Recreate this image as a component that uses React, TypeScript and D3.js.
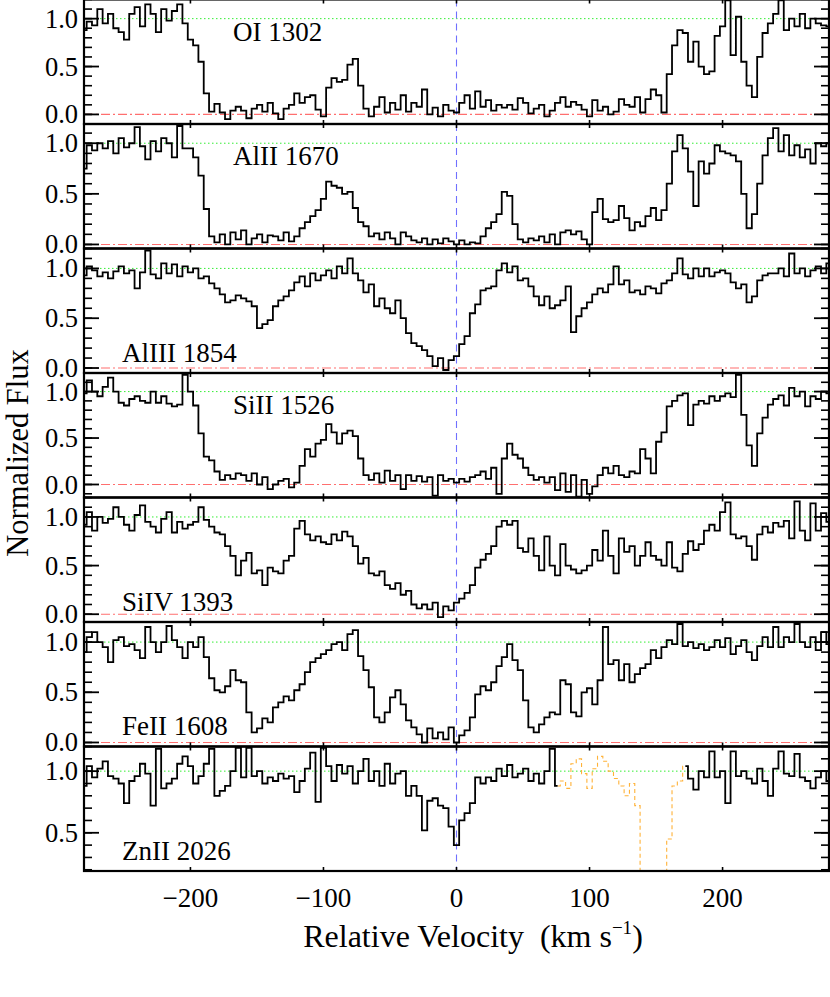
import * as d3 from 'd3'

const W = 830
const H = 997
const LEFT = 84
const RIGHT = 829
const TOP = -0.5
const PANEL_H = 124.5

// velocity pixels, km/s (4 km/s bins)
const VELOCITY = d3.range(-280, 281, 4)

const OI_1302 = [
  0.88, 0.97, 0.93, 1.1, 0.95, 1.05, 0.9, 0.86, 0.78, 1.05,
  1.12, 0.92, 1.15, 1.05, 0.86, 1.1, 0.98, 1.08, 1.15, 0.95,
  0.78, 0.72, 0.55, 0.22, 0.03, 0.11, 0.02, -0.05, 0.04, 0.08,
  0.04, -0.04, 0.06, 0.1, 0.03, 0.12, 0.01, -0.05, 0.06, 0.1,
  0.22, 0.12, 0.18, 0.2, 0.05, -0.02, 0.28, 0.38, 0.34, 0.36,
  0.52, 0.58, 0.3, 0.06, -0.02, 0.08, 0.18, 0.02, 0.12, 0.05,
  0.2, 0.03, 0.12, 0.08, 0.26, 0.0, 0.07, -0.02, 0.1, 0.04,
  0.02, 0.12, 0.2, 0.06, 0.24, 0.08, 0.15, 0.04, 0.1, 0.07,
  0.1, 0.05, 0.17, 0.12, 0.01, 0.06, 0.1, -0.02, 0.04, 0.12,
  0.18, 0.08, 0.13, 0.1, 0.05, -0.02, 0.15, 0.04, 0.08, 0.0,
  0.03, 0.16, 0.1, 0.08, 0.18, 0.02, 0.16, 0.26, 0.2, 0.02,
  0.42, 0.72, 0.88, 0.85, 0.55, 0.76, 0.5, 0.42, 0.45, 0.82,
  0.92, 1.19, 0.62, 1.02, 0.55, 0.3, 0.18, 0.6, 0.85, 0.95,
  1.05, 1.19, 0.88, 1.0, 0.92, 1.05, 0.9, 1.0, 0.95, 0.93,
  0.92,
]

const ALII_1670 = [
  0.75, 0.98, 0.93, 1.0, 0.95, 1.02, 0.9, 1.05, 0.96, 1.0,
  1.16, 0.97, 0.84, 1.02, 0.92, 1.05, 1.0, 0.86, 1.17, 0.95,
  0.95, 0.86, 0.68, 0.35, 0.08, 0.02, 0.1, 0.0, 0.12, 0.05,
  0.14, 0.0, 0.06, 0.1, 0.02, 0.09, 0.08, 0.04, 0.12, 0.03,
  0.08, 0.16, 0.22, 0.28, 0.34, 0.45, 0.62, 0.58, 0.56, 0.5,
  0.52, 0.36, 0.22, 0.18, 0.08, 0.11, 0.05, 0.12, 0.06, 0.0,
  0.12, 0.08, 0.04, 0.02, 0.06, 0.0, 0.05, 0.01, 0.06, 0.03,
  0.0, 0.04, 0.0, 0.02, 0.01, 0.08, 0.16, 0.22, 0.3, 0.52,
  0.48, 0.2, 0.05, 0.02, 0.06, 0.04, 0.08, 0.02, 0.1, 0.0,
  0.12, 0.14, 0.1, 0.13, 0.05, 0.0, 0.32, 0.45, 0.25, 0.22,
  0.24, 0.38, 0.26, 0.14, 0.22, 0.18, 0.28, 0.36, 0.24, 0.34,
  0.6, 0.92, 1.08, 0.95, 0.72, 0.38, 0.82, 0.7, 0.8, 0.98,
  0.92, 0.9, 0.88, 0.82, 0.5, 0.16, 0.3, 0.6, 0.88, 1.05,
  1.15, 0.92, 1.08, 0.88, 0.98, 0.86, 0.94, 0.8, 1.0, 0.97,
  1.0,
]

const ALIII_1854 = [
  0.93, 1.02, 0.98, 0.92, 0.96, 0.9, 0.97, 1.02, 0.95, 0.98,
  0.8, 0.96, 1.18, 0.94, 0.9, 1.05, 0.95, 1.04, 0.92, 1.02,
  0.96, 1.0, 0.9, 0.92, 0.85, 0.8, 0.74, 0.66, 0.68, 0.73,
  0.7, 0.67, 0.62, 0.4, 0.44, 0.48, 0.62, 0.68, 0.72, 0.78,
  0.86, 0.92, 0.82, 0.95, 0.88, 0.93, 0.98, 0.9, 1.02, 0.95,
  1.1, 0.95, 0.88, 0.76, 0.84, 0.62, 0.7, 0.6, 0.55, 0.68,
  0.5, 0.35, 0.25, 0.22, 0.18, 0.12, 0.02, 0.1, -0.02, 0.08,
  0.12, 0.24, 0.32, 0.55, 0.64, 0.78, 0.8, 0.82, 0.98, 1.05,
  0.96, 1.02, 0.88, 0.9, 0.82, 0.72, 0.63, 0.72, 0.6, 0.63,
  0.68, 0.82, 0.36, 0.52, 0.6, 0.66, 0.74, 0.8, 0.76, 0.84,
  1.02, 0.84, 0.88, 0.76, 0.78, 0.74, 0.82, 0.8, 0.75, 0.85,
  0.88, 0.95, 1.1, 0.94, 0.9, 1.0, 0.92, 1.0, 0.92, 0.96,
  0.98, 0.95, 0.86, 0.8, 0.84, 0.66, 0.72, 0.88, 0.93, 0.95,
  0.95, 1.0, 0.92, 1.15, 0.95, 1.0, 0.92, 0.98, 1.02, 0.95,
  1.05,
]

const SIII_1526 = [
  0.98, 1.12, 1.0, 0.95, 1.05, 1.15, 1.0, 0.88, 0.85, 0.92,
  0.95, 0.9, 0.88, 1.0, 0.88, 0.95, 0.87, 0.84, 0.86, 1.18,
  1.0, 0.85, 0.55, 0.3, 0.26, 0.14, 0.05, 0.1, 0.06, 0.12,
  0.1, 0.04, 0.12, 0.0, 0.08, -0.05, 0.0, 0.04, 0.06, -0.03,
  0.02, 0.2, 0.38, 0.3, 0.44, 0.48, 0.65, 0.56, 0.44, 0.55,
  0.58, 0.52, 0.28, 0.1, 0.05, 0.12, 0.02, 0.15, 0.04, 0.1,
  -0.05, 0.1, 0.04, 0.09, 0.03, 0.08, -0.12, 0.1, 0.04, 0.06,
  0.02, 0.06, 0.03, 0.08, 0.1, 0.14, 0.06, 0.18, -0.1, 0.28,
  0.44, 0.32, 0.28, 0.18, 0.1, 0.05, 0.08, 0.02, 0.08, -0.06,
  0.12, -0.08, 0.1, -0.13, 0.05, -0.1, -0.02, 0.1, 0.18, 0.12,
  0.2, 0.1, 0.08, 0.14, 0.12, 0.38, 0.28, 0.12, 0.46, 0.56,
  0.84, 0.9, 0.96, 0.98, 0.64, 0.86, 0.9, 0.87, 0.95, 0.9,
  0.95, 0.98, 0.94, 1.18, 0.75, 0.42, 0.2, 0.55, 0.72, 0.86,
  0.92, 0.96, 0.85, 1.04, 0.95, 1.0, 0.84, 0.95, 0.92, 1.0,
  0.98,
]

const SIIV_1393 = [
  0.92, 1.05, 0.86, 1.0, 0.94, 0.98, 1.1, 1.0, 0.92, 0.86,
  1.02, 1.12, 0.95, 0.9, 0.84, 0.98, 1.05, 0.84, 0.95, 0.88,
  0.92, 0.95, 1.1, 0.97, 0.9, 0.84, 0.82, 0.7, 0.6, 0.4,
  0.55, 0.63, 0.42, 0.45, 0.3, 0.48, 0.44, 0.42, 0.55, 0.6,
  0.88, 0.96, 0.82, 0.76, 0.8, 0.74, 0.72, 0.82, 0.76, 0.85,
  0.8, 0.7, 0.52, 0.58, 0.42, 0.4, 0.44, 0.3, 0.26, 0.32,
  0.2, 0.24, 0.1, 0.06, 0.1, 0.05, 0.12, -0.03, 0.08, 0.04,
  0.12, 0.16, 0.22, 0.3, 0.48, 0.56, 0.62, 0.7, 0.9, 0.96,
  0.92, 0.96, 0.68, 0.64, 0.78, 0.6, 0.45, 0.8, 0.5, 0.4,
  0.72, 0.5, 0.46, 0.42, 0.45, 0.5, 0.66, 0.55, 0.86, 0.6,
  0.42, 0.78, 0.64, 0.7, 0.5, 0.6, 0.74, 0.6, 0.56, 0.5,
  0.74, 0.48, 0.44, 0.62, 0.75, 0.66, 0.72, 0.86, 0.92, 0.86,
  1.05, 1.15, 0.82, 0.78, 0.8, 0.7, 0.56, 0.82, 0.9, 0.84,
  0.94, 0.9, 0.96, 0.78, 1.16, 0.86, 0.76, 1.14, 0.86, 1.04,
  0.95,
]

const FEII_1608 = [
  0.9, 1.05, 1.1, 1.0, 0.95, 0.8, 1.02, 1.05, 0.96, 0.98,
  0.92, 0.84, 1.15, 1.0, 0.9, 1.0, 1.16, 1.02, 0.95, 0.84,
  1.0, 0.95, 1.05, 0.85, 0.64, 0.52, 0.5, 0.56, 0.72, 0.62,
  0.6, 0.3, 0.1, 0.14, 0.24, 0.2, 0.35, 0.4, 0.46, 0.42,
  0.52, 0.58, 0.7, 0.8, 0.84, 0.88, 0.92, 0.98, 1.0, 0.92,
  1.08, 1.12, 0.86, 0.72, 0.55, 0.25, 0.2, 0.3, 0.45, 0.52,
  0.38, 0.22, 0.15, 0.08, 0.0, 0.14, 0.04, 0.1, 0.03, 0.15,
  0.0, 0.07, 0.12, 0.25, 0.48, 0.56, 0.52, 0.6, 0.76, 0.85,
  0.98, 0.82, 0.72, 0.42, 0.15, 0.1, 0.18, 0.25, 0.3, 0.28,
  0.62, 0.58, 0.3, 0.26, 0.5, 0.54, 0.38, 0.62, 1.15, 0.78,
  0.82, 0.62, 0.78, 0.6, 0.68, 0.74, 0.78, 0.92, 0.84, 0.95,
  1.02, 0.98, 1.18, 0.96, 1.0, 0.94, 0.98, 0.92, 0.95, 1.02,
  0.95, 1.04, 0.88, 0.96, 1.02, 0.9, 0.82, 0.96, 1.05, 0.95,
  1.15, 0.95, 1.05, 1.0, 1.18, 1.0, 0.95, 1.05, 0.92, 1.1,
  0.98,
]

const ZNII_2026 = [
  0.88, 1.04, 0.95, 1.02, 1.08, 0.96, 0.94, 0.9, 0.74, 0.92,
  0.96, 1.06, 0.98, 0.72, 1.18, 0.86, 0.9, 0.94, 1.06, 1.12,
  1.04, 0.9, 0.96, 1.06, 1.18, 0.8, 0.84, 0.88, 1.0, 1.19,
  0.95, 1.19, 0.96, 1.0, 0.9, 0.95, 0.92, 0.98, 0.94, 0.96,
  0.83, 0.92, 1.02, 1.15, 0.75, 1.19, 1.04, 0.92, 1.05, 0.98,
  1.04, 0.9, 1.0, 1.1, 0.92, 1.0, 0.88, 1.06, 0.9, 0.98,
  1.0, 0.8, 0.88, 0.8, 0.52, 0.76, 0.78, 0.72, 0.7, 0.55,
  0.4, 0.6, 0.66, 0.74, 0.95, 0.9, 0.95, 0.92, 1.02, 0.96,
  1.05, 0.95, 0.98, 1.02, 0.92, 0.98, 0.9, 1.0, 1.18, 0.88,
  0.92, 0.86, 1.06, 1.1, 0.98, 0.86, 1.02, 1.12, 1.08, 1.0,
  0.94, 0.88, 0.8, 0.9, 0.72, 0.15, 0.05, 0.02, 0.05, 0.1,
  0.45, 0.88, 0.92, 1.04, 0.94, 0.85, 1.0, 0.95, 1.16, 0.95,
  1.0, 0.74, 1.16, 0.96, 1.0, 0.94, 0.9, 1.02, 0.92, 0.8,
  1.02, 1.16, 0.98, 0.96, 1.14, 0.95, 0.92, 0.86, 0.95, 1.0,
  0.92,
]

// ZnII pixels blended with another line (drawn dashed orange)
const ZN_BLEND = [80, 168]

const LINE_NAMES = ['OI 1302', 'AlII 1670', 'AlIII 1854', 'SiII 1526', 'SiIV 1393', 'FeII 1608', 'ZnII 2026']
const FLUXES = [OI_1302, ALII_1670, ALIII_1854, SIII_1526, SIIV_1393, FEII_1608, ZNII_2026]
const Y_DOMAINS = [[-0.1, 1.2], [-0.04, 1.19], [-0.05, 1.2], [-0.14, 1.2], [-0.08, 1.2], [-0.04, 1.2], [0.19, 1.2]]
const LABEL_LOW = [false, false, true, false, true, true, true]

const X_TICKS = [-200, -100, 0, 100, 200]
const Y_MAJOR = [0, 0.5, 1.0]

const FONT = "'Liberation Serif', 'Times New Roman', Times, serif"

export default function App() {
  const x = d3.scaleLinear().domain([-280, 280]).range([LEFT, RIGHT])
  const fmtX = (t: number) => (t < 0 ? `\u2212${-t}` : `${t}`)

  return (
    <svg width={W} height={H} style={{ position: 'absolute', left: 0, top: 0, background: '#fff', fontFamily: FONT }}>
      <defs>
        {FLUXES.map((_, i) => (
          <clipPath id={`clip${i}`} key={i}>
            <rect x={LEFT} y={TOP + i * PANEL_H} width={RIGHT - LEFT} height={PANEL_H} />
          </clipPath>
        ))}
      </defs>

      {FLUXES.map((flux, i) => {
        const top = TOP + i * PANEL_H
        const [d0, d1] = Y_DOMAINS[i]
        const y = d3.scaleLinear().domain([d0, d1]).range([top + PANEL_H, top])
        const pts: [number, number][] = VELOCITY.map((v, k) => [v, flux[k]])
        const mk = () => d3.line<[number, number]>().x((d) => x(d[0])).y((d) => y(d[1])).curve(d3.curveStep)
        const isZn = i === FLUXES.length - 1
        const blackPath = isZn
          ? mk().defined((d) => d[0] < ZN_BLEND[0] || d[0] > ZN_BLEND[1])(pts)
          : mk()(pts)
        const orangePath = isZn
          ? mk().defined((d) => d[0] >= ZN_BLEND[0] - 4 && d[0] <= ZN_BLEND[1] + 4)(pts)
          : null
        const minor = d3.range(Math.ceil(d0 * 10), Math.floor(d1 * 10) + 1).map((k) => k / 10)
        const major = Y_MAJOR.filter((t) => t >= d0 && t <= d1)
        const low = LABEL_LOW[i]
        return (
          <g key={i}>
            <g clipPath={`url(#clip${i})`}>
              <line x1={LEFT} x2={RIGHT} y1={y(1)} y2={y(1)} stroke="#33ee33" strokeWidth={1} strokeDasharray="1.5,2.5" />
              {d0 < 0 && (
                <line x1={LEFT} x2={RIGHT} y1={y(0)} y2={y(0)} stroke="#ff6f6f" strokeWidth={1.1} strokeDasharray="9,3,2,3" />
              )}
              <line x1={x(0)} x2={x(0)} y1={top} y2={top + PANEL_H} stroke="#7070ff" strokeWidth={1.1} strokeDasharray="7,5" />
              {orangePath && (
                <path d={orangePath} fill="none" stroke="#ffb238" strokeWidth={1.1} strokeDasharray="4,3" />
              )}
              <path d={blackPath ?? ''} fill="none" stroke="#000" strokeWidth={1.8} />
            </g>
            {minor.map((t) => (
              <g key={`m${t}`} stroke="#000" strokeWidth={1.6}>
                <line x1={LEFT} x2={LEFT + 8} y1={y(t)} y2={y(t)} />
                <line x1={RIGHT} x2={RIGHT - 8} y1={y(t)} y2={y(t)} />
              </g>
            ))}
            {major.map((t) => (
              <g key={`M${t}`}>
                <line x1={LEFT} x2={LEFT + 15} y1={y(t)} y2={y(t)} stroke="#000" strokeWidth={1.8} />
                <line x1={RIGHT} x2={RIGHT - 15} y1={y(t)} y2={y(t)} stroke="#000" strokeWidth={1.8} />
                <text x={78} y={y(t)} dy="0.34em" textAnchor="end" fontSize={26.5}>
                  {d3.format('.1f')(t)}
                </text>
              </g>
            ))}
            {X_TICKS.map((t) => (
              <g key={`x${t}`} stroke="#000" strokeWidth={1.6}>
                <line x1={x(t)} x2={x(t)} y1={top} y2={top + 4} />
                <line x1={x(t)} x2={x(t)} y1={top + PANEL_H} y2={top + PANEL_H - 4} />
              </g>
            ))}
            <rect x={LEFT} y={top} width={RIGHT - LEFT} height={PANEL_H} fill="none" stroke="#000" strokeWidth={2.2} />
            <text x={low ? 122 : 233} y={top + (low ? 113 : 41)} fontSize={27}>
              {LINE_NAMES[i]}
            </text>
          </g>
        )
      })}

      {X_TICKS.map((t) => (
        <text key={t} x={x(t)} y={907} textAnchor="middle" fontSize={27}>
          {fmtX(t)}
        </text>
      ))}

      <text x={473} y={947} textAnchor="middle" fontSize={32} style={{ whiteSpace: 'pre' }}>
        {'Relative Velocity  (km s'}
        <tspan fontSize={19} dy={-13}>{'\u22121'}</tspan>
        <tspan dy={13}>)</tspan>
      </text>

      <text transform="translate(27.5,453) rotate(-90)" textAnchor="middle" fontSize={30.5}>
        Normalized Flux
      </text>
    </svg>
  )
}
